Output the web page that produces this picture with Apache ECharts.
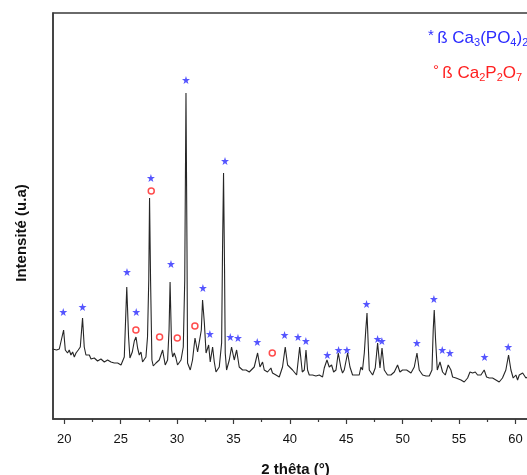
<!DOCTYPE html>
<html>
<head>
<meta charset="utf-8">
<script src="https://cdn.jsdelivr.net/npm/echarts@6/dist/echarts.min.js"></script>
<style>
  html, body { margin: 0; padding: 0; background: #fff; }
  #chart { width: 527px; height: 475px; }
</style>
</head>
<body>
<div id="chart"></div>
<script>
// XRD pattern: diffraction angle (2θ, degrees) and intensity (arbitrary units)
const twoTheta = [
  18.96, 19.11, 19.32, 19.56, 19.73, 19.94, 20.09, 20.29, 20.44, 20.59, 20.74, 20.89, 21.04, 21.24, 21.42, 21.62,
  21.77, 21.92, 22.07, 22.22, 22.37, 22.66, 22.95, 23.25, 23.55, 23.84, 24.14, 24.43, 24.73, 25.03, 25.17, 25.32,
  25.54, 25.70, 25.82, 26.03, 26.21, 26.36, 26.50, 26.65, 26.80, 26.94, 27.09, 27.24, 27.38, 27.49, 27.56, 27.65,
  27.77, 27.89, 28.13, 28.42, 28.72, 28.84, 28.95, 29.16, 29.29, 29.38, 29.52, 29.61, 29.75, 29.90, 30.04, 30.35,
  30.55, 30.68, 30.79, 30.88, 30.93, 31.17, 31.37, 31.59, 31.82, 31.97, 32.15, 32.26, 32.42, 32.57, 32.80, 32.94,
  33.15, 33.30, 33.45, 33.74, 33.95, 34.03, 34.12, 34.21, 34.27, 34.39, 34.63, 34.83, 35.07, 35.28, 35.51, 35.81,
  36.11, 36.40, 36.84, 37.14, 37.35, 37.58, 37.73, 38.02, 38.32, 38.46, 38.77, 39.06, 39.35, 39.59, 39.80, 39.95,
  40.24, 40.60, 40.87, 41.10, 41.28, 41.43, 41.57, 41.72, 42.01, 42.31, 42.61, 42.90, 43.05, 43.29, 43.49, 43.70,
  43.88, 44.09, 44.29, 44.53, 44.67, 44.82, 45.12, 45.33, 45.56, 45.86, 46.15, 46.30, 46.44, 46.60, 46.73, 46.84,
  46.95, 47.04, 47.34, 47.57, 47.78, 47.99, 48.17, 48.37, 48.66, 48.96, 49.26, 49.55, 49.76, 49.99, 50.14, 50.35,
  50.52, 50.74, 51.03, 51.27, 51.47, 51.77, 52.07, 52.36, 52.60, 52.71, 52.80, 52.92, 53.07, 53.31, 53.54, 53.78,
  54.04, 54.28, 54.43, 54.73, 55.17, 55.46, 55.76, 55.97, 56.20, 56.44, 56.64, 56.94, 57.23, 57.44, 57.68, 57.97,
  58.27, 58.56, 58.85, 59.15, 59.39, 59.60, 59.80, 60.04, 60.19, 60.34, 60.64, 60.93, 61.20
];
const intensity = [
  70, 72, 69, 70, 68, 89, 69, 66, 69, 64, 67, 62, 66, 69, 72, 101,
  72, 64, 62, 64, 60, 61, 58, 60, 57, 59, 57, 56, 56, 54, 56, 62,
  132, 82, 61, 67, 78, 82, 71, 64, 67, 57, 55, 62, 82, 139, 221, 139,
  59, 53, 56, 59, 69, 61, 54, 59, 89, 137, 69, 62, 66, 61, 54, 59,
  72, 139, 326, 169, 56, 49, 59, 81, 67, 66, 89, 119, 96, 66, 74, 57,
  72, 57, 47, 52, 76, 169, 246, 149, 66, 49, 59, 72, 59, 69, 52, 49,
  49, 47, 52, 66, 52, 57, 49, 47, 51, 46, 44, 42, 52, 72, 54, 52,
  49, 44, 72, 47, 49, 69, 49, 44, 44, 43, 44, 42, 51, 59, 52, 54,
  47, 49, 66, 51, 46, 49, 66, 52, 44, 44, 44, 52, 49, 66, 89, 106,
  74, 49, 44, 51, 76, 51, 71, 49, 44, 44, 47, 54, 47, 49, 47, 49,
  51, 46, 52, 66, 49, 44, 43, 43, 49, 89, 109, 79, 49, 57, 47, 44,
  54, 49, 42, 41, 39, 37, 41, 47, 46, 47, 44, 44, 49, 42, 41, 41,
  39, 37, 41, 49, 64, 49, 41, 44, 39, 44, 46, 41, 43
];

// Phase markers placed above the indexed reflections
const tcpMarks = [
  [19.91, 107], [21.62, 112], [25.56, 147], [26.38, 107], [27.68, 241], [29.46, 155],
  [30.79, 339], [32.29, 131], [32.91, 85], [34.25, 258], [34.72, 82], [35.40, 81],
  [37.11, 77], [39.53, 84], [40.72, 82], [41.42, 78], [43.32, 64], [44.32, 69],
  [45.06, 69], [46.80, 115], [47.78, 80], [48.16, 78], [51.26, 76], [52.77, 120],
  [53.51, 69], [54.19, 66], [57.26, 62], [59.36, 72]
];
const pyroMarks = [
  [26.35, 89], [27.71, 228], [28.45, 82], [30.02, 81], [31.58, 93], [38.44, 66]
];

const majorTicks = [20, 25, 30, 35, 40, 45, 50, 55, 60];
const minorTicks = [22.5, 27.5, 32.5, 37.5, 42.5, 47.5, 52.5, 57.5, 62.5];

const pattern = twoTheta.map((t, i) => [t, intensity[i]]);

const STAR = 'path://M50,0 L61.8,35.1 L98.9,35.1 L69,57 L80.3,92 L50,70.5 L19.7,92 L31,57 L1.1,35.1 L38.2,35.1 Z';
const FONT = 'Liberation Sans, Arial, sans-serif';
const BLUE = '#2b2bff';
const RED = '#ff2020';
const AXIS = '#3a3a3a';

const chart = echarts.init(document.getElementById('chart'), null, { renderer: 'canvas' });

chart.setOption({
  animation: false,
  backgroundColor: '#fff',
  grid: {
    left: 53, top: 13, width: 485, bottom: 56,
    outerBoundsMode: 'none', containLabel: false,
    show: true, borderColor: AXIS, borderWidth: 1.5, backgroundColor: 'transparent'
  },
  xAxis: [
    {
      type: 'value', min: 19, max: 62,
      name: '2 thêta (°)', nameLocation: 'middle', nameGap: 43,
      nameTextStyle: { fontFamily: FONT, fontSize: 15, fontWeight: 'bold', color: '#111' },
      axisLine: { show: true, onZero: false, lineStyle: { color: AXIS, width: 1.5 } },
      axisTick: { show: true, inside: false, length: 5, customValues: majorTicks, lineStyle: { color: AXIS, width: 1.2 } },
      axisLabel: { show: true, customValues: majorTicks, margin: 14, fontFamily: FONT, fontSize: 13, color: '#111' },
      splitLine: { show: false }
    },
    {
      type: 'value', min: 19, max: 62, position: 'bottom', gridIndex: 0,
      axisLine: { show: false },
      axisTick: { show: true, inside: false, length: 3, customValues: minorTicks, lineStyle: { color: AXIS, width: 1.2 } },
      axisLabel: { show: false },
      splitLine: { show: false }
    }
  ],
  yAxis: {
    type: 'value', min: 0, max: 406,
    axisLine: { show: true, onZero: false, lineStyle: { color: AXIS, width: 1.5 } },
    axisTick: { show: false },
    axisLabel: { show: false },
    splitLine: { show: false }
  },
  graphic: [
    {
      type: 'text', x: 22, y: 233, rotation: Math.PI / 2,
      style: {
        text: 'Intensité (u.a)', fill: '#111', font: 'bold 15px ' + FONT,
        align: 'center', verticalAlign: 'middle'
      }
    },
    {
      type: 'text', left: 428, top: 28,
      style: {
        text: '{m|*} {t|ß Ca}{s|3}{t|(PO}{s|4}{t|)}{s|2}',
        rich: {
          m: { fontFamily: FONT, fontSize: 15, lineHeight: 20, fill: BLUE, verticalAlign: 'top' },
          t: { fontFamily: FONT, fontSize: 17, lineHeight: 20, fill: BLUE },
          s: { fontFamily: FONT, fontSize: 11, lineHeight: 0, fill: BLUE, verticalAlign: 'bottom' }
        }
      }
    },
    {
      type: 'text', left: 433, top: 63,
      style: {
        text: '{m|°} {t|ß Ca}{s|2}{t|P}{s|2}{t|O}{s|7}',
        rich: {
          m: { fontFamily: FONT, fontSize: 15, lineHeight: 20, fill: RED, verticalAlign: 'top' },
          t: { fontFamily: FONT, fontSize: 17, lineHeight: 20, fill: RED },
          s: { fontFamily: FONT, fontSize: 11, lineHeight: 0, fill: RED, verticalAlign: 'bottom' }
        }
      }
    }
  ],
  series: [
    {
      type: 'line', data: pattern, xAxisIndex: 0,
      symbol: 'none', smooth: false,
      lineStyle: { color: '#262626', width: 1.1 },
      clip: true
    },
    {
      type: 'scatter', data: tcpMarks, xAxisIndex: 0,
      symbol: STAR, symbolSize: 8,
      itemStyle: { color: BLUE }
    },
    {
      type: 'scatter', data: pyroMarks, xAxisIndex: 0,
      symbol: 'circle', symbolSize: 6, z: 5,
      itemStyle: { color: 'rgba(255,255,255,0)', borderColor: RED, borderWidth: 1.5 }
    }
  ]
});
</script>
</body>
</html>
